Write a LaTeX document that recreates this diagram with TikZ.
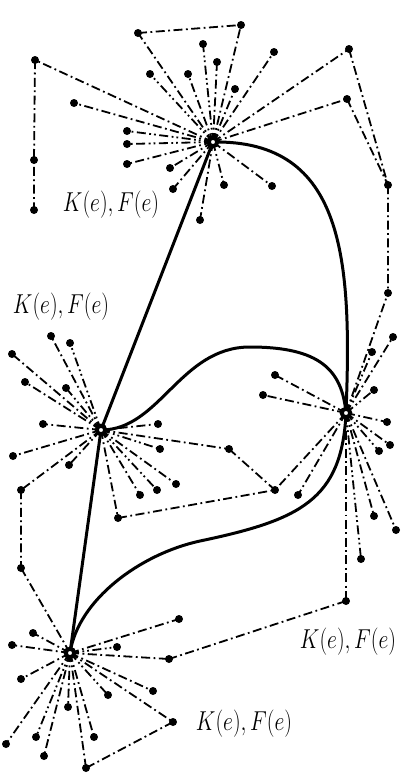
\documentclass[tikz,border=0pt]{standalone}
\usetikzlibrary{calc}

\begin{document}
\begin{tikzpicture}[x=1pt,y=-1pt,
  spoke/.style={line width=1.8pt,dash pattern=on 9pt off 3.5pt on 1.8pt off 3.5pt},
  spokedd/.style={line width=1.8pt,dash pattern=on 9pt off 3.5pt on 1.8pt off 3pt on 1.8pt off 3.5pt},
  edge/.style={line width=3pt},
  hub/.style={circle,draw,fill=white,line width=4pt,inner sep=0pt,minimum size=8.5pt},
  lab/.style={font=\Huge,xscale=0.87,yscale=1.1,transform shape}]
  \useasboundingbox (0,0) rectangle (400,777);
  % the four centres
  \coordinate (T) at (213,142);
  \coordinate (L) at (101,430);
  \coordinate (R) at (346,413);
  \coordinate (B) at (70,653);
  % leaves
  \foreach \n/\x/\y in {t1/138/33,t2/241/25,t3/203/44,t4/217/62,t5/274/52,t6/349/49,
      t7/150/74,t8/188/74,t9/235/89,t10/347/99,t11/35/60,t12/74/103,t13/127/131,
      t14/127/144,t15/127/164,t16/170/168,t17/173/189,t18/224/185,t19/272/186,
      t20/200/220,t21/34/160,t22/34/210,t23/388/185}
    \coordinate (\n) at (\x,\y);
  \foreach \n/\x/\y in {l1/51/336,l2/70/343,l3/12/354,l4/25/382,l5/66/388,l6/43/424,
      l7/158/424,l8/13/456,l9/69/465,l10/160/449,l11/229/449,l12/176/484,
      l13/157/490,l14/140/495,l15/21/490,l16/118/518}
    \coordinate (\n) at (\x,\y);
  \foreach \n/\x/\y in {r1/388/293,r2/393/337,r3/372/352,r4/275/375,r5/263/395,
      r6/374/390,r7/387/422,r8/390/445,r9/379/451,r10/374/516,r11/396/530,
      r12/361/559,r13/346/601,r14/298/495,r15/275/490}
    \coordinate (\n) at (\x,\y);
  \foreach \n/\x/\y in {b1/21/568,b2/33/633,b3/12/645,b4/179/619,b5/117/647,
      b6/169/659,b7/21/679,b8/153/691,b9/108/695,b10/68/707,b11/173/722,
      b12/6/744,b13/36/737,b14/44/756,b15/94/737,b16/86/768}
    \coordinate (\n) at (\x,\y);
  % spokes
  \foreach \n in {1,2,4,5,6,8,9,10,11,12,15,16,17,19,20} \draw[spoke] (T) -- (t\n);
  \foreach \n in {3,7,13,14,18} \draw[spokedd] (T) -- (t\n);
  \foreach \n in {1,3,4,6,7,8,9,11,12,14,15,16} \draw[spoke] (L) -- (l\n);
  \foreach \n in {2,5,10,13} \draw[spokedd] (L) -- (l\n);
  \foreach \n in {1,2,4,5,7,8,10,11,13,14,15} \draw[spoke] (R) -- (r\n);
  \foreach \n in {3,6,9,12} \draw[spokedd] (R) -- (r\n);
  \foreach \n in {1,2,3,4,6,7,8,10,11,12,14,15,16} \draw[spoke] (B) -- (b\n);
  \foreach \n in {5,9,13} \draw[spokedd] (B) -- (b\n);
  \draw[spoke] (t1) -- (t2) (t11) -- (t21) -- (t22) (t6) -- (t23) (t10) -- (t23)
    (t23) -- (r1);
  \draw[spoke] (l11) -- (r15) (l16) -- (r15) (l15) -- (b1) (r13) -- (b6)
    (b11) -- (b16);
  % solid edges
  \draw[edge] (T) -- (L) -- (B);
  \draw[edge] (T) .. controls (345,140) and (352,260) .. (R);
  \draw[edge] (L) .. controls (160,430) and (180,347) .. (250,347)
    .. controls (320,347) and (342,370) .. (R);
  \draw[edge] (R) .. controls (342,500) and (300,520) .. (200,541)
    .. controls (140,554) and (78,600) .. (B);
  % dots and centres
  \foreach \n in {t1,t2,t3,t4,t5,t6,t7,t8,t9,t10,t11,t12,t13,t14,t15,t16,t17,t18,
      t19,t20,t21,t22,t23,l1,l2,l3,l4,l5,l6,l7,l8,l9,l10,l11,l12,l13,l14,l15,l16,
      r1,r2,r3,r4,r5,r6,r7,r8,r9,r10,r11,r12,r13,r14,r15,
      b1,b2,b3,b4,b5,b6,b7,b8,b9,b10,b11,b12,b13,b14,b15,b16}
    \fill (\n) circle (4pt);
  \node[hub] (hT) at (T) {};
  \node[hub] (hL) at (L) {};
  \node[hub] (hR) at (R) {};
  \node[hub] (hB) at (B) {};
  \node[lab] (k1) at (111,205) {$K(e),F(e)$};
  \node[lab] (k2) at (61,307) {$K(e),F(e)$};
  \node[lab] (k3) at (348,642) {$K(e),F(e)$};
  \node[lab] (k4) at (244,724) {$K(e),F(e)$};
\end{tikzpicture}
\end{document}
